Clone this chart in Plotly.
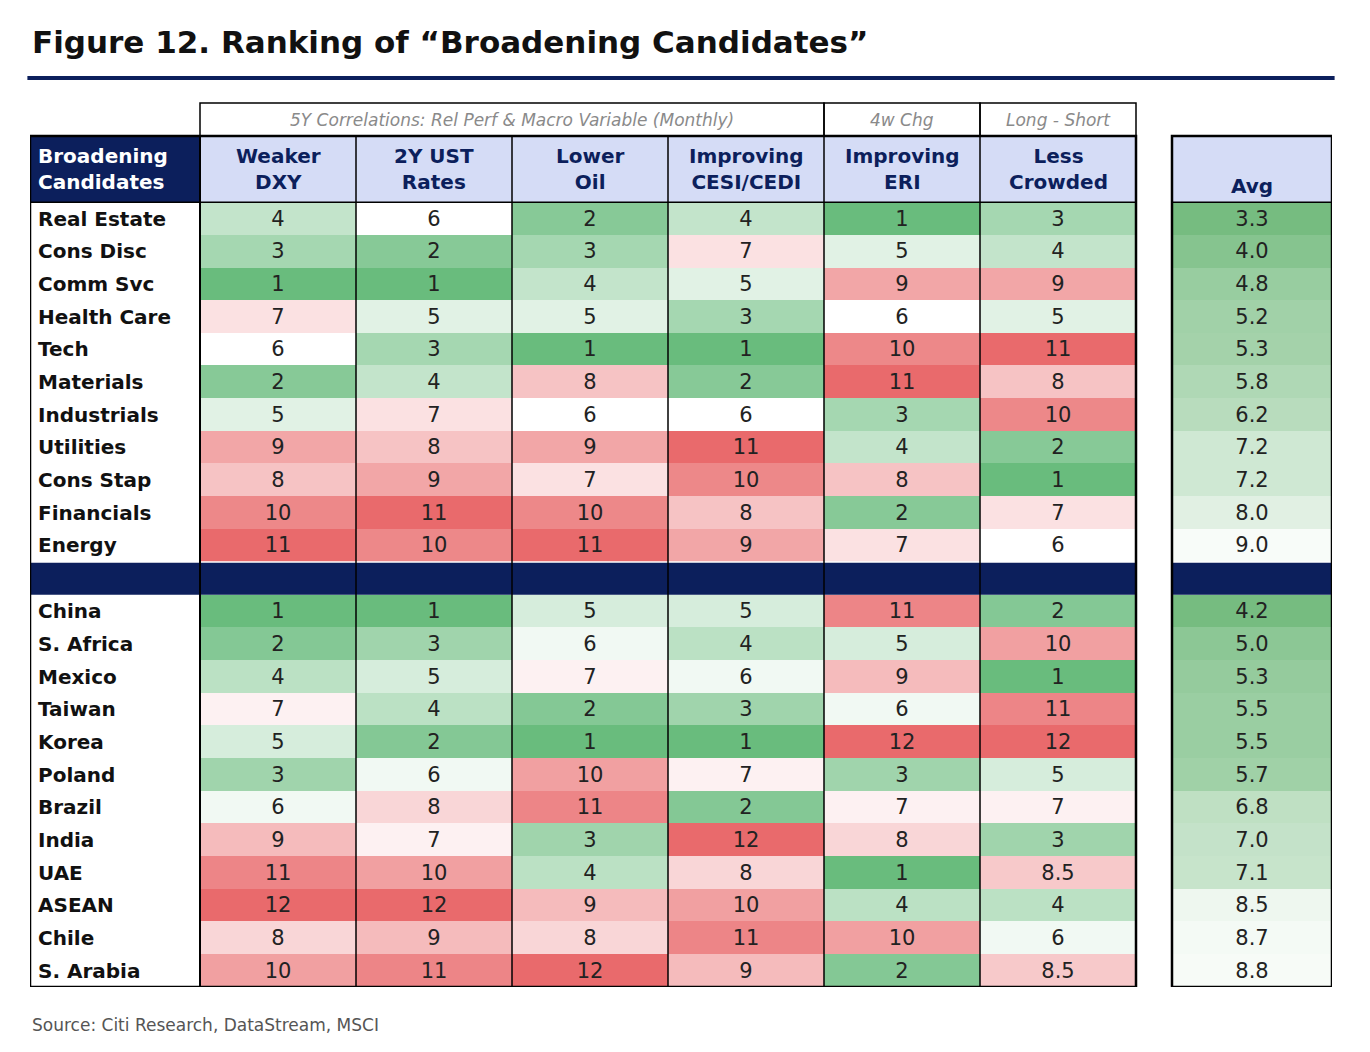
import plotly.graph_objects as go

columns = ["Weaker<br>DXY", "2Y UST<br>Rates", "Lower<br>Oil", "Improving<br>CESI/CEDI", "Improving<br>ERI", "Less<br>Crowded"]
sectors = ["Real Estate", "Cons Disc", "Comm Svc", "Health Care", "Tech", "Materials", "Industrials", "Utilities", "Cons Stap", "Financials", "Energy"]
sector_ranks = [
    [4, 6, 2, 4, 1, 3], [3, 2, 3, 7, 5, 4], [1, 1, 4, 5, 9, 9], [7, 5, 5, 3, 6, 5],
    [6, 3, 1, 1, 10, 11], [2, 4, 8, 2, 11, 8], [5, 7, 6, 6, 3, 10], [9, 8, 9, 11, 4, 2],
    [8, 9, 7, 10, 8, 1], [10, 11, 10, 8, 2, 7], [11, 10, 11, 9, 7, 6]]
sector_avg = [3.3, 4.0, 4.8, 5.2, 5.3, 5.8, 6.2, 7.2, 7.2, 8.0, 9.0]
ems = ["China", "S. Africa", "Mexico", "Taiwan", "Korea", "Poland", "Brazil", "India", "UAE", "ASEAN", "Chile", "S. Arabia"]
em_ranks = [
    [1, 1, 5, 5, 11, 2], [2, 3, 6, 4, 5, 10], [4, 5, 7, 6, 9, 1], [7, 4, 2, 3, 6, 11],
    [5, 2, 1, 1, 12, 12], [3, 6, 10, 7, 3, 5], [6, 8, 11, 2, 7, 7], [9, 7, 3, 12, 8, 3],
    [11, 10, 4, 8, 1, 8.5], [12, 12, 9, 10, 4, 4], [8, 9, 8, 11, 10, 6], [10, 11, 12, 9, 2, 8.5]]
em_avg = [4.2, 5.0, 5.3, 5.5, 5.5, 5.7, 6.8, 7.0, 7.1, 8.5, 8.7, 8.8]

NAVY = "#0c1f5c"
GRN, WHT, RED = "rgb(105,188,125)", "rgb(255,255,255)", "rgb(233,106,108)"
rank_scale = [[0, GRN], [0.5, WHT], [1, RED]]
avg_scale = [[0, "rgb(118,188,128)"], [1, WHT]]

col_edges = [200 + 156 * i for i in range(7)]
avg_edges = [1172, 1332]
row_h = 32.6
s_top = 202
s_edges = [s_top + row_h * i for i in range(len(sectors) + 1)]
band_top, band_bot = s_edges[-1] + 1, s_edges[-1] + 33
e_edges = [band_bot + row_h * i for i in range(len(ems) + 1)]

def fmt(v):
    return str(int(v)) if float(v).is_integer() else f"{v}"

fig = go.Figure()
NUMFONT = dict(family="DejaVu Sans", size=21, color="#222")
for ranks, edges, zmax in [(sector_ranks, s_edges, 11), (em_ranks, e_edges, 12)]:
    fig.add_trace(go.Heatmap(z=ranks, x=col_edges, y=edges, zmin=1, zmax=zmax,
                             colorscale=rank_scale, showscale=False, hoverinfo="skip",
                             text=[[fmt(v) for v in r] for r in ranks], texttemplate="%{text}",
                             textfont=NUMFONT))
for avg, edges in [(sector_avg, s_edges), (em_avg, e_edges)]:
    fig.add_trace(go.Heatmap(z=[[v] for v in avg], x=avg_edges, y=edges,
                             zmin=min(avg), zmax=max(avg) + 0.3,
                             colorscale=avg_scale, showscale=False, hoverinfo="skip",
                             text=[[f"{v:.1f}"] for v in avg], texttemplate="%{text}",
                             textfont=NUMFONT))

shapes = []
def rect(x0, x1, y0, y1, fill=None, lw=1.5, lc="black", layer="above"):
    shapes.append(dict(type="rect", xref="x", yref="y", x0=x0, x1=x1, y0=y0, y1=y1,
                       fillcolor=fill or "rgba(0,0,0,0)", line=dict(color=lc, width=lw), layer=layer))

rect(30, 200, 136, 202, fill=NAVY, lw=0, layer="below")
rect(200, 1136, 136, 202, fill="#d5dcf6", lw=0, layer="below")
rect(1172, 1332, 136, 202, fill="#d5dcf6", lw=0, layer="below")
rect(30, 1136, band_top, band_bot, fill=NAVY, lw=0)
rect(1172, 1332, band_top, band_bot, fill=NAVY, lw=0)
for x in col_edges[1:-1]:
    shapes.append(dict(type="line", xref="x", yref="y", x0=x, x1=x, y0=136, y1=e_edges[-1],
                       line=dict(color="black", width=1.5)))
shapes.append(dict(type="line", xref="x", yref="y", x0=30, x1=1136, y0=202, y1=202, line=dict(color="black", width=1.5)))
shapes.append(dict(type="line", xref="x", yref="y", x0=1172, x1=1332, y0=202, y1=202, line=dict(color="black", width=1.5)))
rect(30, 1136, 136, e_edges[-1], lw=2.5)
rect(200, 1136, 136, e_edges[-1], lw=2)
rect(1172, 1332, 136, e_edges[-1], lw=2.5)
for x0, x1 in [(200, 824), (824, 980), (980, 1136)]:
    rect(x0, x1, 103, 136, lw=1.5)

ann = []
for x0, x1, t in [(200, 824, "5Y Correlations: Rel Perf & Macro Variable (Monthly)"), (824, 980, "4w Chg"), (980, 1136, "Long - Short")]:
    ann.append(dict(x=(x0 + x1) / 2, y=120, xref="x", yref="y", text=f"<i>{t}</i>", showarrow=False,
                    font=dict(family="DejaVu Sans", size=17, color="#8a8a8a")))
for i, c in enumerate(columns):
    ann.append(dict(x=(col_edges[i] + col_edges[i + 1]) / 2, y=169, xref="x", yref="y", text=f"<b>{c}</b>",
                    showarrow=False, font=dict(family="DejaVu Sans", size=20, color=NAVY)))
ann.append(dict(x=1252, y=186, xref="x", yref="y", text="<b>Avg</b>", showarrow=False,
                font=dict(family="DejaVu Sans", size=20, color=NAVY)))
ann.append(dict(x=36, y=169, xref="x", yref="y", text="<b>Broadening<br>Candidates</b>", showarrow=False,
                xanchor="left", align="left", font=dict(family="DejaVu Sans", size=20, color="white")))
for names, edges in [(sectors, s_edges), (ems, e_edges)]:
    for i, n in enumerate(names):
        ann.append(dict(x=36, y=(edges[i] + edges[i + 1]) / 2, xref="x", yref="y", text=f"<b>{n}</b>",
                        showarrow=False, xanchor="left", font=dict(family="DejaVu Sans", size=20, color="#111")))
ann.append(dict(x=0, y=(987 - 42) / 885, xref="paper", yref="paper", xanchor="left", yanchor="middle",
                text="<b>Figure 12. Ranking of “Broadening Candidates”</b>", showarrow=False,
                font=dict(family="DejaVu Sans", size=31, color="#111")))
ann.append(dict(x=0, y=-0.043, xref="paper", yref="paper", xanchor="left", yanchor="middle",
                text="Source: Citi Research, DataStream, MSCI", showarrow=False,
                font=dict(family="DejaVu Sans", size=17, color="#555")))
shapes.append(dict(type="line", xref="paper", yref="paper", x0=-0.002, x1=1.002,
                   y0=(987 - 78) / 885, y1=(987 - 78) / 885, line=dict(color=NAVY, width=4)))

fig.update_layout(width=1370, height=1052, margin=dict(l=22, r=46, t=94, b=73),
                  paper_bgcolor="white", plot_bgcolor="white", shapes=shapes, annotations=ann,
                  xaxis=dict(range=[30, 1332], visible=False, fixedrange=True),
                  yaxis=dict(range=[e_edges[-1], 102], visible=False, fixedrange=True))
fig.write_html("out.html")
